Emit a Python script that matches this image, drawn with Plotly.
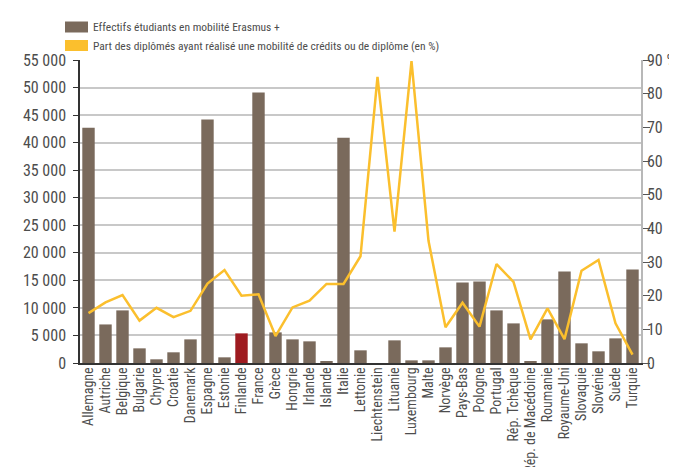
import plotly.graph_objects as go

countries = ["Allemagne", "Autriche", "Belgique", "Bulgarie", "Chypre", "Croatie", "Danemark",
             "Espagne", "Estonie", "Finlande", "France", "Grèce", "Hongrie", "Irlande", "Islande",
             "Italie", "Lettonie", "Liechtenstein", "Lituanie", "Luxembourg", "Malte", "Norvège",
             "Pays-Bas", "Pologne", "Portugal", "Rép. Tchèque", "Rép. de Macédoine", "Roumanie",
             "Royaume-Uni", "Slovaquie", "Slovénie", "Suède", "Turquie"]

erasmus = [42700, 7000, 9550, 2660, 670, 1940, 4290, 44200, 1030, 5380, 49100, 5560, 4290,
           3930, 300, 40900, 2300, 0, 4110, 480, 480, 2840, 14630, 14810, 9550, 7190, 300,
           7920, 16630, 3570, 2120, 4470, 16990]

part_pct = [14.8, 18.0, 20.2, 12.6, 16.4, 13.6, 15.5, 23.6, 27.6, 20.0, 20.4, 8.0, 16.5, 18.5,
            23.5, 23.5, 31.7, 85.0, 39.0, 89.7, 36.3, 10.6, 17.9, 10.8, 29.4, 24.1, 7.0, 16.2,
            7.1, 27.4, 30.6, 11.8, 2.5]

left_ticks = list(range(0, 55001, 5000))
left_ticktext = ["0" if v == 0 else f"{v // 1000} 000" for v in left_ticks]
right_ticks = list(range(0, 91, 10))
right_ticktext = [str(v) for v in right_ticks[:-1]] + ["90 %"]

legend_labels = ["Effectifs étudiants en mobilité Erasmus +",
                 "Part des diplômés ayant réalisé une mobilité de crédits ou de diplôme (en %)"]

BROWN = "#7a6a5c"
RED = "#9e1b20"
YELLOW = "#fbbf2d"
TXT = "#4d4d4d"
FONT = "Roboto Condensed, DejaVu Sans Condensed, sans-serif"

L, R, T, B = 72, 44, 52, 112
W, H = 677, 467
PW, PH = W - L - R, H - T - B

bar_colors = [RED if c == "Finlande" else BROWN for c in countries]

fig = go.Figure()
fig.add_trace(go.Bar(x=countries, y=erasmus, marker=dict(color=bar_colors, line=dict(width=0)),
                     name=legend_labels[0], yaxis="y"))
fig.add_trace(go.Scatter(x=countries, y=part_pct, mode="lines", line=dict(color=YELLOW, width=2.5),
                         name=legend_labels[1], yaxis="y2"))

fig.update_layout(
    width=W, height=H,
    margin=dict(l=L, r=R, t=T, b=B),
    paper_bgcolor="white", plot_bgcolor="white",
    showlegend=False,
    bargap=0.27,
    font=dict(family=FONT, size=13, color=TXT),
    xaxis=dict(type="category", tickmode="array", tickvals=countries, ticktext=countries,
               tickangle=-90, showgrid=False, showline=True, linecolor="#333333",
               linewidth=1.5, ticks="", ticklabelstandoff=-3,
               tickfont=dict(size=14, color=TXT), automargin=False),
    yaxis=dict(range=[0, 55000], tickvals=left_ticks, ticktext=left_ticktext, showgrid=True,
               gridcolor="#c8c8c8", gridwidth=1.5, showline=True, linecolor="#333333", linewidth=1.5,
               ticks="outside", ticklen=5, tickcolor="#333333", zeroline=False,
               ticklabelstandoff=4, tickfont=dict(size=16, color=TXT), automargin=False),
    yaxis2=dict(range=[0, 90], tickvals=right_ticks, ticktext=right_ticktext, overlaying="y",
                side="right", showgrid=False, showline=True, linecolor="#b8b8b8", linewidth=1.5,
                ticks="outside", ticklen=7, tickcolor="#555555", zeroline=False,
                ticklabelstandoff=-6, tickfont=dict(size=16, color=TXT), automargin=False),
)

# legend drawn as swatches + labels (pixel positions converted to paper coords)
legend_colors = [BROWN, YELLOW]
legend_y = [19, 37.5]
shapes = []
annotations = []
for col, yy, lab in zip(legend_colors, legend_y, legend_labels):
    shapes.append(dict(type="rect", xref="paper", yref="paper",
                       x0=(57 - L) / PW, x1=(80 - L) / PW,
                       y0=(H - B - (yy + 5.5)) / PH, y1=(H - B - (yy - 5.5)) / PH,
                       fillcolor=col, line=dict(width=0)))
    annotations.append(dict(text=lab, xref="paper", yref="paper", x=(83 - L) / PW,
                            y=(H - B - yy) / PH, xanchor="left", yanchor="middle",
                            showarrow=False, font=dict(size=11.5, color=TXT)))
fig.update_layout(shapes=shapes, annotations=annotations)

fig.write_html("out.html")
